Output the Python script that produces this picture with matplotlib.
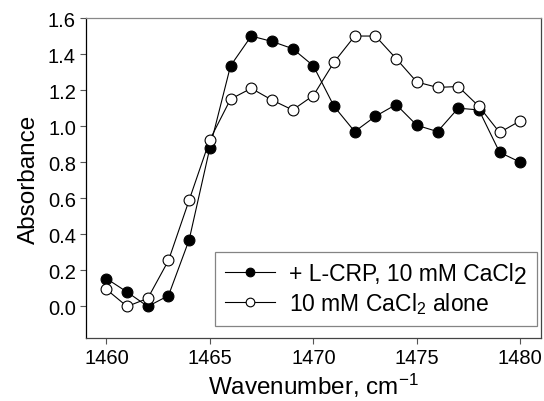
import matplotlib
matplotlib.use('Agg')
import matplotlib.pyplot as plt
from matplotlib.transforms import IdentityTransform

plt.rcParams['font.family'] = ['Liberation Sans', 'DejaVu Sans']
plt.rcParams['mathtext.fontset'] = 'custom'
plt.rcParams['mathtext.rm'] = 'Liberation Sans'
plt.rcParams['mathtext.it'] = 'Liberation Sans:italic'

# data
wavenumber = [1460, 1461, 1462, 1463, 1464, 1465, 1466, 1467, 1468, 1469, 1470,
              1471, 1472, 1473, 1474, 1475, 1476, 1477, 1478, 1479, 1480]
with_crp = [0.155, 0.08, 0.0, 0.06, 0.37, 0.88, 1.335, 1.50, 1.47, 1.43, 1.335,
            1.11, 0.97, 1.055, 1.12, 1.005, 0.97, 1.10, 1.09, 0.855, 0.80]
cacl2_alone = [0.095, 0.0, 0.045, 0.255, 0.59, 0.925, 1.15, 1.21, 1.145, 1.09, 1.17,
               1.355, 1.50, 1.50, 1.375, 1.245, 1.215, 1.22, 1.11, 0.965, 1.03]
xticks = [1460, 1465, 1470, 1475, 1480]
yticks = [0.0, 0.2, 0.4, 0.6, 0.8, 1.0, 1.2, 1.4, 1.6]

fig = plt.figure(figsize=(5.44, 4.02), dpi=100)
ax = fig.add_axes([0.1575, 0.1567, 0.837, 0.796])

# two trailing spaces leave room for the lowered "2" drawn afterwards
ax.plot(wavenumber, with_crp, '-o', color='black', lw=0.8, ms=7.8,
        mfc='black', mec='black', mew=0.8, label='+ L-CRP, 10 mM CaCl  ')
ax.plot(wavenumber, cacl2_alone, '-o', color='black', lw=0.8, ms=7.8,
        mfc='white', mec='black', mew=0.8, label=r'10 mM CaCl$_2$ alone')

ax.set_xlim(1459, 1481)
ax.set_ylim(-0.175, 1.595)
ax.set_xticks(xticks)
ax.set_yticks(yticks)
ax.set_yticklabels(['%.1f' % v for v in yticks])
ax.tick_params(direction='out', length=4, width=0.8, color='#555555',
               labelsize=14.5, pad=3)
ax.set_xlabel(r'Wavenumber, cm$^{\mathregular{-1}}$', fontsize=17.5, labelpad=3)
ax.set_ylabel('Absorbance', fontsize=17.5, labelpad=6)

ax.spines['left'].set_color('black')
ax.spines['top'].set_color('#888888')
ax.spines['right'].set_color('#444444')
ax.spines['bottom'].set_color('#444444')
for s in ax.spines.values():
    s.set_linewidth(0.9)

leg = ax.legend(loc='lower right', bbox_to_anchor=(0.991, 0.0375), fontsize=16.5,
                frameon=True, fancybox=False, edgecolor='#666666',
                handlelength=2.2, handletextpad=0.6, borderpad=0.45,
                labelspacing=0.2, markerscale=0.8, borderaxespad=0)
leg.get_frame().set_linewidth(0.9)

# full size, lowered "2" after CaCl in the first legend entry
fig.canvas.draw()
bb = leg.get_texts()[0].get_window_extent()
digit_w = 0.556 * 16.5 * fig.dpi / 72
fig.text(bb.x1 - digit_w, bb.y0 - 3, '2', fontsize=16.5, transform=IdentityTransform(),
         va='bottom', ha='left')

fig.savefig('out.png', dpi=100)
